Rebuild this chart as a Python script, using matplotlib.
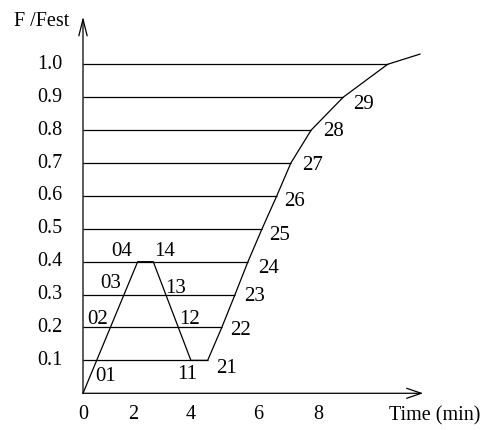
import matplotlib
matplotlib.use("Agg")
import matplotlib.pyplot as plt

# loading path: time (min) vs F/Fest
time = [0, 1.86, 2.39, 3.67, 4.24, 4.72, 5.17, 5.61, 6.09, 6.59, 7.07, 7.76, 8.85, 10.36, 11.46]
force = [0, 0.4, 0.4, 0.1, 0.1, 0.2, 0.3, 0.4, 0.5, 0.6, 0.7, 0.8, 0.9, 1.0, 1.031]

# load levels and where each level line meets the right branch
levels = [0.1, 0.2, 0.3, 0.4, 0.5, 0.6, 0.7, 0.8, 0.9, 1.0]
level_ends = time[4:14]
level_labels = ["0.1", "0.2", "0.3", "0.4", "0.5", "0.6", "0.7", "0.8", "0.9", "1.0"]

# x tick labels (schematic, unevenly placed in the original)
xtick_pos = [0, 1.70, 3.67, 5.95, 7.99]
xtick_labels = ["0", "2", "4", "6", "8"]

# step labels
step_names = ["01", "02", "03", "04", "14", "13", "12", "11",
              "21", "22", "23", "24", "25", "26", "27", "28", "29"]
step_x = [0.78, 0.51, 0.95, 1.32, 2.77, 3.15, 3.64, 3.53,
          4.89, 5.34, 5.85, 6.30, 6.70, 7.21, 7.81, 8.51, 9.53]
step_y = [0.050, 0.223, 0.334, 0.430, 0.430, 0.319, 0.225, 0.056,
          0.076, 0.192, 0.294, 0.380, 0.481, 0.582, 0.692, 0.795, 0.879]

plt.rcParams['font.family'] = ['Liberation Serif', 'DejaVu Serif']

fig = plt.figure(figsize=(4.84, 4.30), dpi=100)
ax = fig.add_axes([0, 0, 1, 1])
ax.set_xlim(-2.823, 13.639)
ax.set_ylim(-0.1116, 1.1955)
ax.axis("off")

lw = 0.9
ax.hlines(levels, 0, level_ends, color="black", lw=lw)
ax.plot(time, force, color="black", lw=lw)

# axes with open arrow heads
ax.annotate("", xy=(0, 1.145), xytext=(0, 0),
            arrowprops=dict(arrowstyle="->,head_length=1.2,head_width=0.3",
                            lw=lw, color="black", shrinkA=0, shrinkB=0))
ax.annotate("", xy=(11.57, 0), xytext=(0, 0),
            arrowprops=dict(arrowstyle="->,head_length=1.05,head_width=0.36",
                            lw=lw, color="black", shrinkA=0, shrinkB=0))

for lev, lab in zip(levels, level_labels):
    ax.text(-0.71, lev, lab, ha="right", va="center", fontsize=14.5)

for xp, lab in zip(xtick_pos, xtick_labels):
    ax.text(xp, -0.066, lab, ha="center", va="center", fontsize=14.5)

for name, xs, ys in zip(step_names, step_x, step_y):
    ax.text(xs, ys, name, ha="center", va="center", fontsize=15)

ax.text(11.97, -0.068, "Time (min)", ha="center", va="center", fontsize=14.5)
ax.text(-1.41, 1.129, "F /Fest", ha="center", va="center", fontsize=14.5)

fig.savefig("out.png", dpi=100)
